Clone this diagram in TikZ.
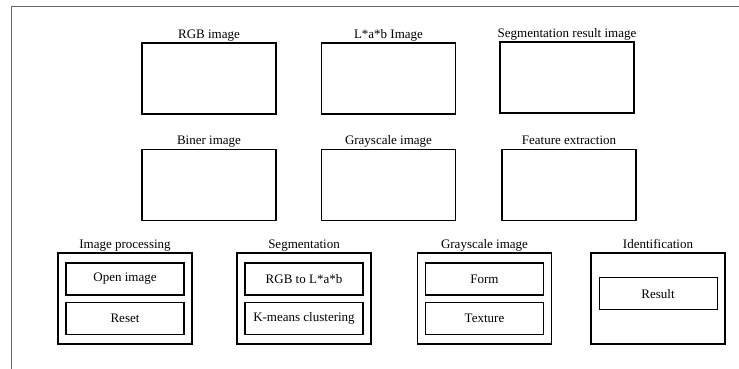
\documentclass[tikz,border=0pt]{standalone}
\usepackage{fontspec}
\setmainfont{Liberation Serif}
\usetikzlibrary{positioning}

\begin{document}
\begin{tikzpicture}[x=1pt,y=-1pt,font=\fontsize{13}{15}\selectfont]

\tikzstyle{screen}=[draw, line width=1.4pt, minimum width=134pt, minimum height=71pt, inner sep=0pt]
\tikzstyle{panel}=[draw, line width=1.4pt, minimum width=134pt, minimum height=91pt, inner sep=0pt]
\tikzstyle{button}=[draw, line width=1.4pt, minimum width=118pt, minimum height=32pt, inner sep=0pt]
\tikzstyle{every label}=[inner sep=1pt, text depth=3pt]

\useasboundingbox (0,0) rectangle (739,369);
\draw[gray!80!black, line width=0.8pt] (11,369) -- (11,6) -- (739,6);

% display areas
\node [screen, label=above:RGB image] (rgb) at (209,78.5) {};
\node [screen, label=above:L*a*b Image] (lab) at (388.5,78.5) {};
\node [screen, label=above:Segmentation result image] (segres) at (567,77.5) {};

\node [screen, label=above:Biner image] (biner) at (209,185) {};
\node [screen, label=above:Grayscale image] (gray) at (388.5,185) {};
\node [screen, label=above:Feature extraction] (feature) at (569,185) {};

% control panels
\node [panel, label=above:Image processing] (proc) at (125,298.5) {};
\node [panel, label=above:Segmentation] (seg) at (304,298.5) {};
\node [panel, label=above:Grayscale image] (grayp) at (484.5,298.5) {};
\node [panel, label=above:Identification] (ident) at (658,298.5) {};

\node [button, below=10pt of proc.north] (open) {Open image};
\node [button, below=6pt of open] (reset) {Reset};

\node [button, below=10pt of seg.north] (rgblab) {RGB to L*a*b};
\node [button, below=6pt of rgblab] (kmeans) {K-means clustering};

\node [button, below=10pt of grayp.north] (form) {Form};
\node [button, below=6pt of form] (texture) {Texture};

\node [button, line width=1pt, below=25pt of ident.north] (result) {Result};

\end{tikzpicture}
\end{document}
